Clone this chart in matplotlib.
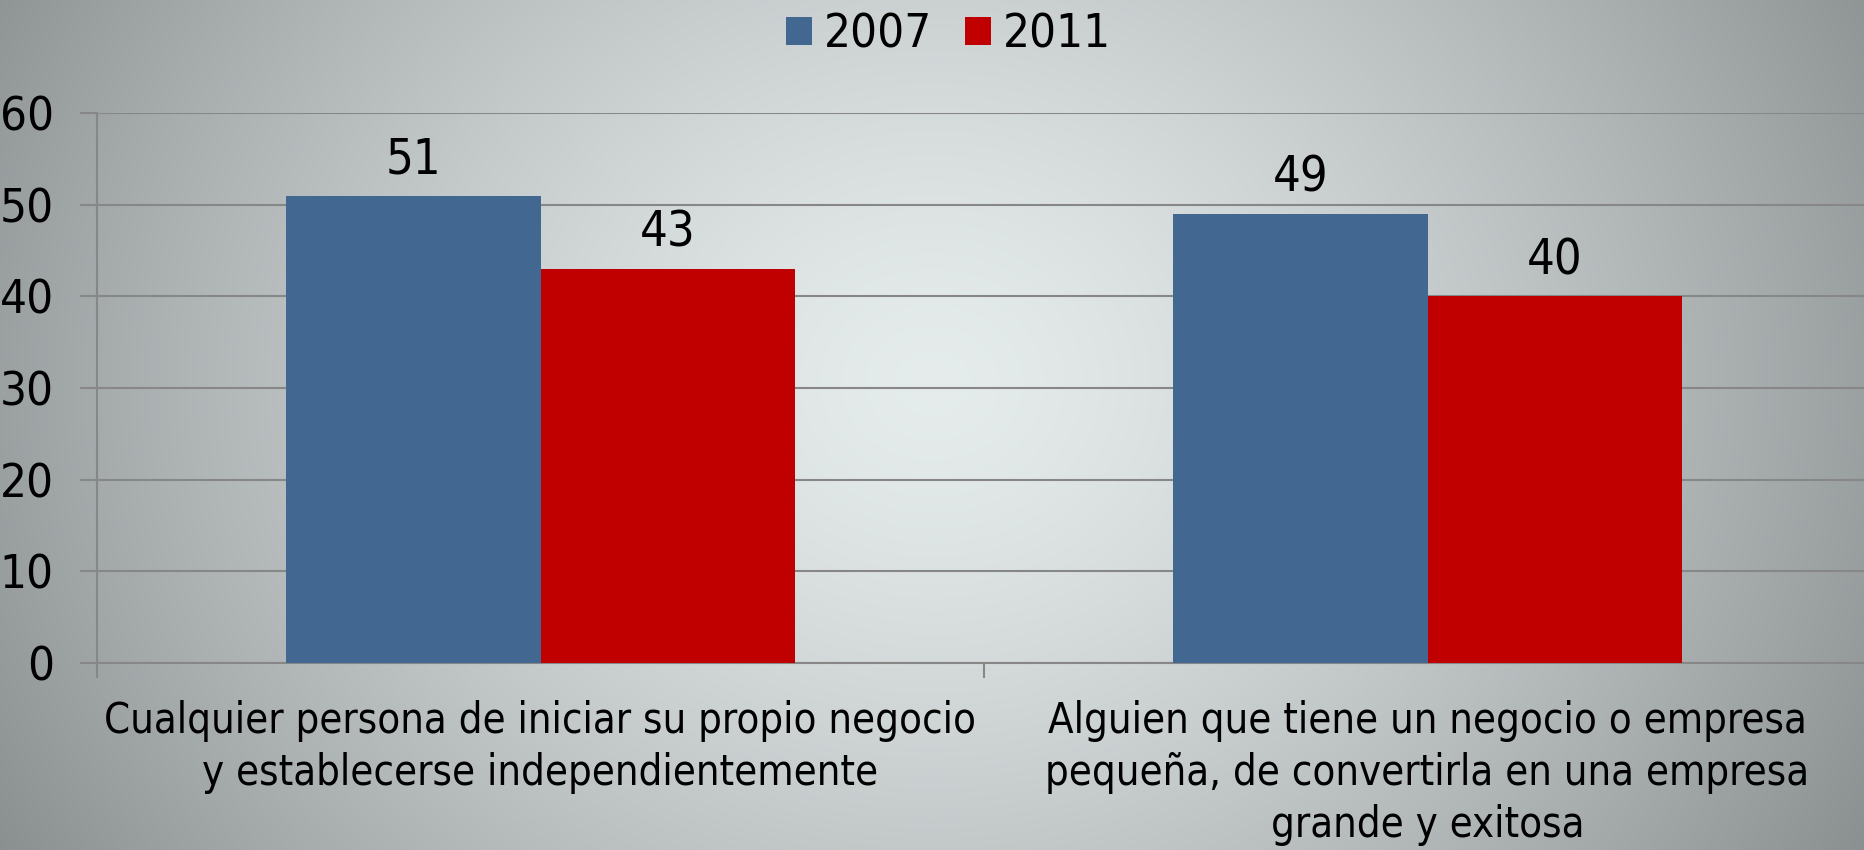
import numpy as np
import matplotlib
matplotlib.use("Agg")
from matplotlib import pyplot as plt

categories = ["Cualquier persona de iniciar su propio negocio\ny establecerse independientemente",
              "Alguien que tiene un negocio o empresa\npequeña, de convertirla en una empresa\ngrande y exitosa"]
series_names = ["2007", "2011"]
values_2007 = [51, 49]
values_2011 = [43, 40]
yticks = [0, 10, 20, 30, 40, 50, 60]

blue = "#426891"
red = "#C00000"
grid_col = "#878787"

plt.rcParams["font.family"] = "DejaVu Sans"
plt.rcParams["font.stretch"] = "condensed"

W, H = 1864, 850
fig = plt.figure(figsize=(W / 100, H / 100), dpi=100)

# radial grey background, lighter in the middle
yy, xx = np.mgrid[0:H, 0:W]
d = np.sqrt(((xx - W * 0.5) / (W * 0.58)) ** 2 + ((yy - H * 0.45) / (H * 1.1)) ** 2)
d = np.clip(d, 0, 1)
c_in = np.array([0.90, 0.925, 0.925])
c_out = np.array([0.54, 0.56, 0.565])
bg = c_in + (c_out - c_in) * d[..., None] ** 1.4
fig.figimage(bg, xo=0, yo=0, zorder=-10)

left, right, top, bottom = 97, 1871, 113, 663
ax = fig.add_axes([left / W, 1 - bottom / H, (right - left) / W, (bottom - top) / H])
ax.patch.set_alpha(0)

x = np.arange(len(categories))
w = 0.287
b1 = ax.bar(x - w / 2, values_2007, w, color=blue, label=series_names[0], zorder=3)
b2 = ax.bar(x + w / 2, values_2011, w, color=red, label=series_names[1], zorder=3)

for bars in (b1, b2):
    for r in bars:
        ax.annotate(f"{r.get_height():g}", (r.get_x() + r.get_width() / 2, r.get_height()),
                    xytext=(0, 16), textcoords="offset points", ha="center", va="baseline",
                    fontsize=35, color="black")

ax.set_ylim(0, 60)
ax.set_xlim(-0.5, 1.5)
ax.set_yticks(yticks)
ax.set_yticklabels([str(v) for v in yticks], fontsize=34)
ax.yaxis.grid(True, color=grid_col, linewidth=1.5, zorder=0)
ax.tick_params(axis="y", length=12, width=1.5, color=grid_col, pad=19)

# category ticks on the boundaries, labels in the middle
ax.set_xticks([-0.5, 0.5, 1.5])
ax.set_xticklabels([])
ax.set_xticks(x, minor=True)
ax.set_xticklabels(categories, minor=True, fontsize=30, linespacing=1.3)
ax.tick_params(axis="x", which="major", length=11, width=1.5, color=grid_col)
ax.tick_params(axis="x", which="minor", length=0, pad=27)

for s in ("top", "right"):
    ax.spines[s].set_visible(False)
ax.spines["left"].set_color(grid_col)
ax.spines["left"].set_linewidth(1.5)
ax.spines["bottom"].set_color(grid_col)
ax.spines["bottom"].set_linewidth(1.5)

fig.legend(loc="center", bbox_to_anchor=(0.509, 1 - 35 / H), ncol=2, frameon=False,
           fontsize=34, handlelength=0.55, handleheight=0.55, handletextpad=0.25,
           columnspacing=0.7, borderpad=0)

fig.savefig("out.png", dpi=100)
